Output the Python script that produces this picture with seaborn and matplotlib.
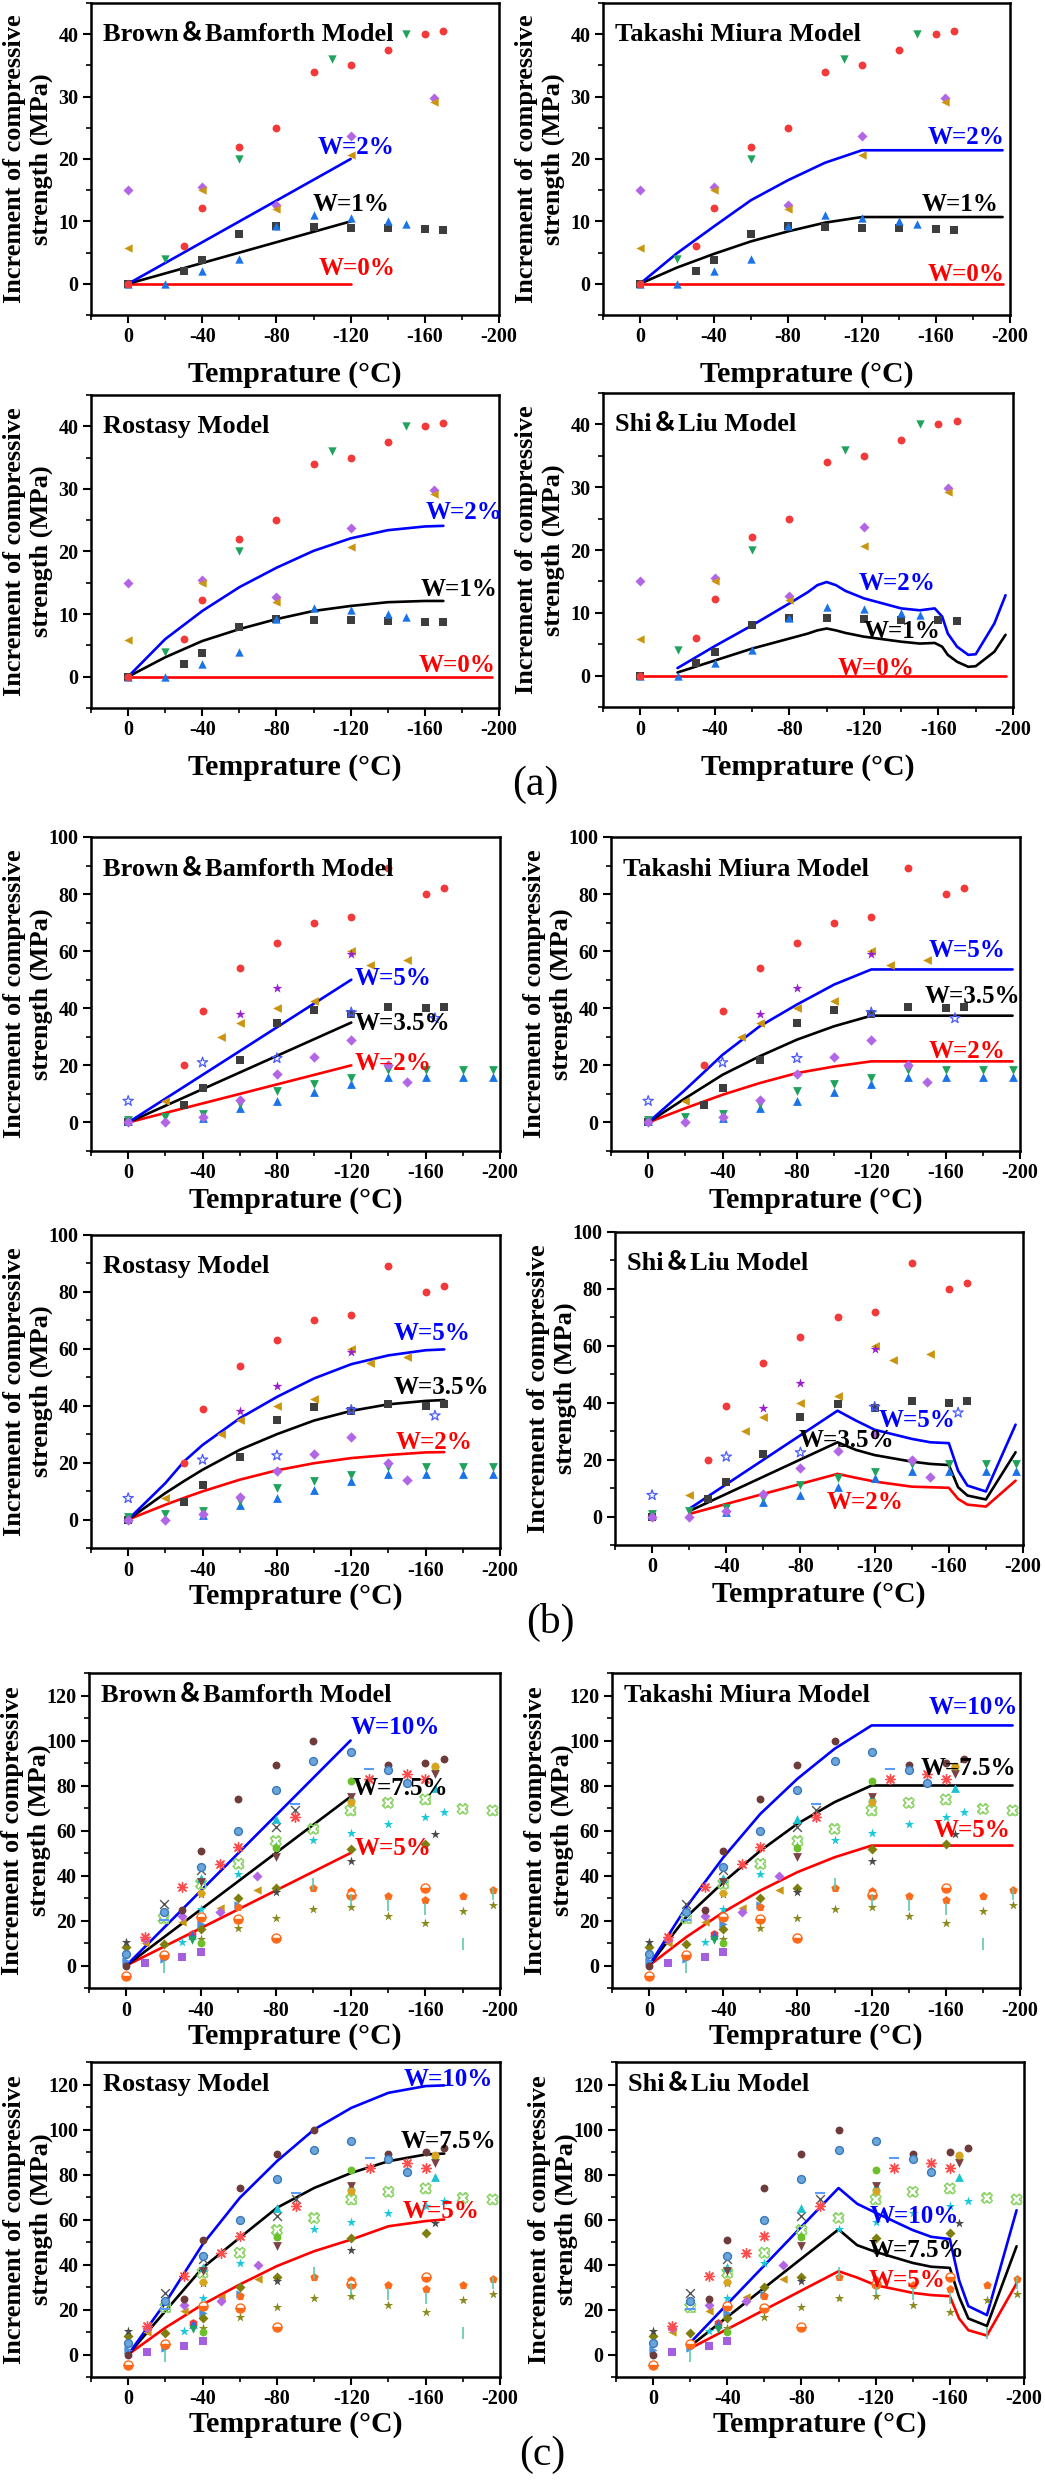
import matplotlib
matplotlib.use("Agg")
import matplotlib.pyplot as plt
import seaborn as sns
from matplotlib.ticker import MultipleLocator

# ---------------- (a) measured data ----------------
A_RED_T = [0, -30, -40, -60, -80, -100, -120, -140, -160, -170]
A_RED_V = [0, 6, 12.2, 22, 25, 34, 35, 37.5, 40, 40.5]
A_GRN_T = [-20, -60, -110, -150]
A_GRN_V = [4, 20, 36, 40]
A_PUR_T = [0, -40, -80, -120, -165]
A_PUR_V = [15, 15.5, 12.7, 23.7, 29.8]
A_GLD_T = [0, -40, -80, -120, -165]
A_GLD_V = [5.8, 15, 12, 20.7, 29.2]
A_BLU_T = [0, -20, -40, -60, -80, -100, -120, -140, -150]
A_BLU_V = [0, 0, 2, 4, 9.2, 11, 10.6, 10, 9.6]
A_GRY_T = [0, -30, -40, -60, -80, -100, -120, -140, -160, -170]
A_GRY_V = [0, 2, 3.8, 8, 9.2, 9.1, 9, 8.9, 8.8, 8.7]

# (a) model curves
A_BB_T = [0, -120]
A_BB_W0 = [0, 0]
A_BB_W1 = [0, 10]
A_BB_W2 = [0, 20]
A_TM_T = [0, -20, -40, -60, -80, -100, -120, -196]
A_TM_W0 = [0, 0, 0, 0, 0, 0, 0, 0]
A_TM_W1 = [0, 2.6, 4.8, 6.8, 8.4, 9.8, 10.7, 10.7]
A_TM_W2 = [0, 4.9, 9.2, 13.4, 16.6, 19.4, 21.4, 21.4]
A_RO_T = [0, -20, -40, -60, -80, -100, -120, -140, -160, -170]
A_RO_W1 = [0, 3.1, 5.7, 7.6, 9.2, 10.5, 11.3, 11.9, 12.1, 12.1]
A_RO_W2 = [0, 6.0, 10.5, 14.3, 17.4, 20.1, 22.1, 23.4, 24.0, 24.1]
A_W0_T = [0, -196]
A_W0_V = [0, 0]
A_SL_T = [-20, -40, -60, -80, -90, -95, -100, -105, -110, -120, -140, -150, -158, -162, -165, -170, -176, -180, -190, -196]
A_SL_W1 = [0.5, 2.4, 4.3, 5.9, 6.7, 7.2, 7.5, 7.2, 6.8, 6.2, 5.4, 5.1, 5.2, 4.6, 3.3, 2.2, 1.4, 1.5, 3.8, 6.5]
A_SL_W2 = [1.2, 4.7, 8.0, 11.5, 13.3, 14.4, 14.9, 14.4, 13.5, 12.3, 10.7, 10.4, 10.7, 9.4, 6.7, 4.6, 3.3, 3.4, 8.3, 12.8]

# ---------------- (b) measured data ----------------
B_RED_T = [-30, -40, -60, -80, -100, -120, -140, -160, -170]
B_RED_V = [20, 39, 54, 63, 70, 72, 89, 80, 82]
B_GLD_T = [-20, -50, -60, -80, -100, -120, -130, -150]
B_GLD_V = [7.5, 30, 35, 40, 42.5, 60, 55, 57]
B_PST_T = [-60, -80, -120]
B_PST_V = [38, 47, 59]
B_OST_T = [0, -40, -80, -120, -165]
B_OST_V = [7.5, 21, 22.5, 38.5, 36.5]
B_GRY_T = [0, -30, -40, -60, -80, -100, -120, -140, -160, -170]
B_GRY_V = [0, 6, 12, 22, 35, 39.5, 38, 40.5, 40, 40.5]
B_PUR_T = [0, -20, -40, -60, -80, -100, -120, -140, -150]
B_PUR_V = [0, 0, 2, 8, 17, 23, 29, 20, 14]
B_GRN_T = [0, -20, -40, -60, -80, -100, -120, -140, -160, -180, -196]
B_GRN_V = [1, 2, 3, 6.5, 11, 13.5, 15.5, 18.5, 18.5, 18.5, 18.5]
B_BLU_T = [0, -40, -60, -80, -100, -120, -140, -160, -180, -196]
B_BLU_V = [0.5, 1.5, 5, 7.5, 10.5, 13.5, 16, 16, 16, 16]

# (b) model curves
B_BB_T = [0, -120]
B_BB_W2 = [0, 20]
B_BB_W35 = [0, 35]
B_BB_W5 = [0, 50]
B_TM_T = [0, -20, -40, -60, -80, -100, -120, -196]
B_TM_W2 = [0, 5.0, 9.7, 13.8, 17.3, 19.6, 21.4, 21.4]
B_TM_W35 = [0, 8.5, 16.7, 23.2, 29.0, 33.7, 37.4, 37.4]
B_TM_W5 = [0, 11.5, 23.7, 33.7, 41.3, 48.3, 53.6, 53.6]
B_RO_T = [0, -20, -30, -40, -60, -80, -100, -120, -140, -160, -170]
B_RO_W2 = [0, 5.2, 7.6, 9.9, 14.0, 17.3, 19.8, 21.6, 22.7, 23.6, 23.7]
B_RO_W35 = [0, 9.3, 13.5, 17.5, 24.5, 30.0, 34.8, 38.2, 40.5, 41.7, 42.0]
B_RO_W5 = [0, 12.8, 20.4, 26.2, 35.6, 43.1, 49.6, 54.6, 57.7, 59.5, 59.8]
B_SL_T = [-20, -100, -110, -120, -140, -150, -160, -165, -170, -180, -196]
B_SL_W2 = [0.9, 15.0, 13.6, 12.3, 10.5, 10.3, 10.1, 6.2, 4.2, 3.5, 12.6]
B_SL_W35 = [1.9, 26.1, 23.4, 21.6, 19.3, 18.5, 18.1, 10.3, 7.4, 6.0, 22.6]
B_SL_W5 = [2.7, 37.2, 33.7, 30.5, 27.3, 26.1, 25.8, 16.1, 10.9, 8.8, 32.3]

# ---------------- (c) measured data ----------------
C_BRC_T = [0, -30, -40, -60, -80, -100, -140, -160, -170]
C_BRC_V = [0, 24.7, 50.8, 73.8, 88.9, 99.7, 88.9, 89.9, 91.9]
C_SPH_T = [0, -20, -40, -60, -80, -100, -120, -140, -150]
C_SPH_V = [5.2, 24, 44, 60, 77.8, 90.8, 94.8, 87, 81]
C_AST_T = [-10, -30, -50, -60, -90, -130, -150, -160]
C_AST_V = [12.6, 35.1, 45.2, 52.6, 66.2, 82.7, 84.9, 82.7]
C_XGR_T = [-20, -40, -80, -90]
C_XGR_V = [27.4, 42.5, 61.5, 68.9]
C_BOX_T = [-20, -40, -60, -80, -100, -120, -140, -160, -180, -196]
C_BOX_V = [21, 36.3, 45.2, 55.3, 60.7, 68.9, 72.3, 73.8, 69.6, 68.9]
C_CST_T = [-30, -40, -60, -80, -100, -120, -140, -160, -170]
C_CST_V = [10.4, 25.2, 40.7, 53.3, 56, 59, 63, 65.9, 68.1]
C_CTR_T = [-40, -80, -120, -165]
C_CTR_V = [39, 64.9, 74.8, 79]
C_GCI_T = [-40, -80, -120, -165]
C_GCI_V = [10, 52.3, 81.8, 88.1]
C_BDT_T = [-40, -80, -120, -165]
C_BDT_V = [37, 48.1, 74.8, 84.9]
C_ODI_T = [0, -20, -40, -60, -80, -120, -160]
C_ODI_V = [8.1, 9.6, 16.3, 29.9, 34.5, 51.9, 54.1]
C_OST_T = [-40, -60, -80, -100, -120, -140, -160, -180, -196]
C_OST_V = [11.9, 16.6, 21.2, 24.9, 25.9, 22.2, 19, 24.1, 27]
C_DST_T = [0, -40, -80, -120, -165]
C_DST_V = [10.4, 31.9, 32.6, 46.4, 58.5]
C_PEN_T = [-60, -100, -120, -140, -160, -180, -196]
C_PEN_V = [26.2, 34.4, 33.3, 30.7, 29.2, 31.1, 33.6]
C_HCI_T = [0, -20, -40, -60, -80, -120, -160]
C_HCI_V = [-4.7, 4.7, 21.5, 20.7, 12.3, 31.4, 34.5]
C_PSQ_T = [-10, -30, -40]
C_PSQ_V = [1, 4, 5.9]
C_PDI_T = [-10, -30, -50, -70]
C_PDI_V = [11.9, 21.8, 23.7, 40]
C_GLT_T = [-10, -30, -50, -70]
C_GLT_V = [10, 19.3, 25.6, 33.6]
C_BRT_T = [0, -20, -40, -60]
C_BRT_V = [1.9, 3, 18.5, 26.7]
C_GOC_T = [-40, -120, -165]
C_GOC_V = [32.1, 72.6, 88.6]
C_RHX_T = [-35]
C_RHX_V = [14]
C_BUT_T = [-35]
C_BUT_V = [13.6]
C_GDT_T = [-35]
C_GDT_V = [11.4]
C_DSH_T = [-20, -90, -130]
C_DSH_V = [20.3, 71.6, 87.4]
C_BAR_T = [-20, -100, -120, -140, -160, -180, -196]
C_BAR_V = [-0.7, 36.3, 28.9, 26.7, 25.2, 9.6, 31.9]

# (c) model curves
C_BB_T = [0, -120]
C_BB_W5 = [0, 50]
C_BB_W75 = [0, 75]
C_BB_W10 = [0, 100]
C_TM_T = [0, -20, -40, -60, -80, -100, -120, -196]
C_TM_W5 = [0, 12.6, 23.7, 33.3, 41.5, 48.1, 53.3, 53.3]
C_TM_W75 = [0, 21.5, 37.0, 51.0, 63.0, 72.6, 80.0, 80.0]
C_TM_W10 = [0, 25.9, 48.0, 67.4, 83.0, 96.3, 106.7, 106.7]
C_RO_T = [0, -20, -40, -60, -80, -100, -120, -140, -160, -170]
C_RO_W5 = [0, 11.9, 22.2, 31.1, 39.3, 45.9, 51.1, 57.0, 59.3, 60.0]
C_RO_W75 = [0, 19.3, 38.5, 51.9, 65.2, 74.0, 80.7, 85.9, 88.9, 89.3]
C_RO_W10 = [0, 23.0, 48.9, 69.6, 85.9, 100.0, 109.6, 116.3, 119.3, 119.6]
C_SL_T = [-20, -100, -110, -120, -140, -150, -160, -165, -170, -180, -196]
C_SL_W5 = [2.7, 37.0, 34.2, 30.8, 27.4, 26.4, 25.9, 16.0, 10.8, 8.4, 31.6]
C_SL_W75 = [3.7, 55.6, 48.6, 45.6, 40.7, 39.0, 38.5, 25.6, 16.0, 12.7, 48.1]
C_SL_W10 = [5.2, 74.0, 67.0, 63.0, 55.3, 52.3, 51.3, 33.0, 21.5, 17.5, 64.1]

TITLES = ["Brown＆Bamforth Model", "Takashi Miura Model", "Rostasy Model", "Shi＆Liu Model"]

# ---------------- style ----------------
sns.set_theme(style="ticks")
plt.rcParams["font.family"] = ["Liberation Serif", "Noto Sans CJK SC"]
plt.rcParams["font.weight"] = "bold"
plt.rcParams["axes.labelweight"] = "bold"
plt.rcParams["axes.unicode_minus"] = False
for k in ["text.color", "axes.labelcolor", "axes.edgecolor", "xtick.color", "ytick.color"]:
    plt.rcParams[k] = "black"

BLUE, BLACK, RED = "#0000ff", "#000000", "#ff0000"
FIG_W, FIG_H = 1045, 2480
fig = plt.figure(figsize=(FIG_W / 100, FIG_H / 100), dpi=100)

PANELS = {
    ("a", 0, 0): (91, 499, 3, 315), ("a", 0, 1): (603, 1010, 3, 315),
    ("a", 1, 0): (91, 499, 395, 708), ("a", 1, 1): (603, 1013, 393, 707),
    ("b", 0, 0): (91, 500, 837, 1151), ("b", 0, 1): (611, 1020, 837, 1151),
    ("b", 1, 0): (91, 500, 1235, 1548), ("b", 1, 1): (615, 1023, 1232, 1545),
    ("c", 0, 0): (89, 500, 1673, 1988), ("c", 0, 1): (612, 1020, 1673, 1988),
    ("c", 1, 0): (91, 500, 2062, 2377), ("c", 1, 1): (616, 1024, 2062, 2377),
}
YCFG = {"a": ((-5, 45), 10, 5), "b": ((-10, 100), 20, 10), "c": ((-10, 130), 20, 10)}
XLAB_OFF = {"a": 60, "b": 49, "c": 48}
TITLE_Y = {"a": 0.90, "b": 0.898, "c": 0.93}


def make_ax(key):
    l, r, t, b = PANELS[key]
    ax = fig.add_axes([l / FIG_W, 1 - b / FIG_H, (r - l) / FIG_W, (b - t) / FIG_H])
    g = key[0]
    (ylo, yhi), ymaj, ymin = YCFG[g]
    ax.set_xlim(20, -200)
    ax.set_ylim(ylo, yhi)
    ax.xaxis.set_major_locator(MultipleLocator(40))
    ax.xaxis.set_minor_locator(MultipleLocator(20))
    ax.yaxis.set_major_locator(MultipleLocator(ymaj))
    ax.yaxis.set_minor_locator(MultipleLocator(ymin))
    ax.tick_params(which="major", direction="out", length=6, width=1.5, labelsize=14.5, pad=3,
                   top=False, right=False)
    ax.tick_params(which="minor", direction="out", length=3.5, width=1.2, top=False, right=False)
    for sp in ax.spines.values():
        sp.set_visible(True)
        sp.set_linewidth(1.8)
        sp.set_color("black")
    ax.set_facecolor("white")
    ax.set_ylabel("Increment of compressive\nstrength (MPa)", fontsize=19, fontweight="bold",
                  linespacing=1.2)
    ax.yaxis.label.set_va("center")
    ax.yaxis.set_label_coords(-63 / (r - l), 0.5)
    ax.set_xlabel("Temprature (°C)", fontsize=21.5, fontweight="bold")
    ax.xaxis.label.set_va("center")
    ax.xaxis.set_label_coords(0.5, -XLAB_OFF[g] / (b - t))
    idx = key[1] * 2 + key[2]
    ax.text(0.03, TITLE_Y[g], TITLES[idx], transform=ax.transAxes, ha="left", va="center",
            fontsize=19, fontweight="bold", zorder=5)
    return ax


def line(ax, x, y, c):
    sns.lineplot(x=x, y=y, color=c, linewidth=1.9, sort=False, estimator=None, ax=ax, zorder=2)


def sc(ax, x, y, m, c, s=32, ec=None, lw=0.0):
    sns.scatterplot(x=x, y=y, marker=m, color=c, s=s, edgecolor=ec if ec else c, linewidth=lw,
                    ax=ax, legend=False, zorder=3)


def lab(ax, x, y, txt, c, ha):
    ax.text(x, y, txt, color=c, fontsize=18, fontweight="bold", ha=ha, va="center",
            zorder=6, clip_on=False)


# ---------------- group (a) ----------------
def pts_a(ax):
    sc(ax, A_GRY_T, A_GRY_V, "s", "#3d3d3d", s=28)
    sc(ax, A_BLU_T, A_BLU_V, "^", "#1a73e8", s=36)
    sc(ax, A_RED_T, A_RED_V, "o", "#f23a3a")
    sc(ax, A_GRN_T, A_GRN_V, "v", "#1fa35c", s=36)
    sc(ax, A_PUR_T, A_PUR_V, "D", "#b266e6", s=26)
    sc(ax, A_GLD_T, A_GLD_V, "<", "#cc9510", s=36)


ax = make_ax(("a", 0, 0))
line(ax, A_BB_T, A_BB_W0, RED); line(ax, A_BB_T, A_BB_W1, BLACK); line(ax, A_BB_T, A_BB_W2, BLUE)
pts_a(ax)
lab(ax, -102, 21.8, "W=2%", BLUE, "left"); lab(ax, -99.5, 12.7, "W=1%", BLACK, "left")
lab(ax, -103, 2.5, "W=0%", RED, "left")

ax = make_ax(("a", 0, 1))
line(ax, A_TM_T, A_TM_W0, RED); line(ax, A_TM_T, A_TM_W1, BLACK); line(ax, A_TM_T, A_TM_W2, BLUE)
pts_a(ax)
lab(ax, -197, 23.5, "W=2%", BLUE, "right"); lab(ax, -194, 12.7, "W=1%", BLACK, "right")
lab(ax, -197, 1.5, "W=0%", RED, "right")

ax = make_ax(("a", 1, 0))
line(ax, A_W0_T, A_W0_V, RED); line(ax, A_RO_T, A_RO_W1, BLACK); line(ax, A_RO_T, A_RO_W2, BLUE)
pts_a(ax)
lab(ax, -202, 26.2, "W=2%", BLUE, "right"); lab(ax, -199, 14, "W=1%", BLACK, "right")
lab(ax, -198, 1.75, "W=0%", RED, "right")

ax = make_ax(("a", 1, 1))
line(ax, A_W0_T, A_W0_V, RED); line(ax, A_SL_T, A_SL_W1, BLACK); line(ax, A_SL_T, A_SL_W2, BLUE)
pts_a(ax)
lab(ax, -117, 14.6, "W=2%", BLUE, "left"); lab(ax, -120, 7, "W=1%", BLACK, "left")
lab(ax, -106, 1.2, "W=0%", RED, "left")


# ---------------- group (b) ----------------
def pts_b(ax):
    sc(ax, B_GRY_T, B_GRY_V, "s", "#3d3d3d", s=28)
    sc(ax, B_BLU_T, B_BLU_V, "^", "#1a73e8", s=40)
    sc(ax, B_GRN_T, B_GRN_V, "v", "#1fa35c", s=40)
    sc(ax, B_PUR_T, B_PUR_V, "D", "#b266e6", s=28)
    sc(ax, B_RED_T, B_RED_V, "o", "#f23a3a")
    sc(ax, B_GLD_T, B_GLD_V, "<", "#cc9510", s=40)
    sc(ax, B_PST_T, B_PST_V, "*", "#9a1fd0", s=55)
    ax.scatter(B_OST_T, B_OST_V, marker="*", s=60, facecolors="none", edgecolors="#4a5cff",
               linewidths=0.9, zorder=3)


ax = make_ax(("b", 0, 0))
line(ax, B_BB_T, B_BB_W2, RED); line(ax, B_BB_T, B_BB_W35, BLACK); line(ax, B_BB_T, B_BB_W5, BLUE)
pts_b(ax)
lab(ax, -122, 50.4, "W=5%", BLUE, "left"); lab(ax, -122, 34.7, "W=3.5%", BLACK, "left")
lab(ax, -122, 20.7, "W=2%", RED, "left")

ax = make_ax(("b", 0, 1))
line(ax, B_TM_T, B_TM_W2, RED); line(ax, B_TM_T, B_TM_W35, BLACK); line(ax, B_TM_T, B_TM_W5, BLUE)
pts_b(ax)
lab(ax, -192, 60.3, "W=5%", BLUE, "right"); lab(ax, -200, 44, "W=3.5%", BLACK, "right")
lab(ax, -192, 24.8, "W=2%", RED, "right")

ax = make_ax(("b", 1, 0))
line(ax, B_RO_T, B_RO_W2, RED); line(ax, B_RO_T, B_RO_W35, BLACK); line(ax, B_RO_T, B_RO_W5, BLUE)
pts_b(ax)
lab(ax, -184, 65.3, "W=5%", BLUE, "right"); lab(ax, -194, 46.5, "W=3.5%", BLACK, "right")
lab(ax, -185, 27, "W=2%", RED, "right")

ax = make_ax(("b", 1, 1))
line(ax, B_SL_T, B_SL_W2, RED); line(ax, B_SL_T, B_SL_W35, BLACK); line(ax, B_SL_T, B_SL_W5, BLUE)
pts_b(ax)
lab(ax, -122, 33.7, "W=5%", BLUE, "left"); lab(ax, -79, 26.7, "W=3.5%", BLACK, "left")
lab(ax, -94, 5, "W=2%", RED, "left")


# ---------------- group (c) ----------------
def pts_c(ax):
    sc(ax, C_PSQ_T, C_PSQ_V, "s", "#a35fe0", s=26)
    sc(ax, C_BRT_T, C_BRT_V, ">", "#4a90e2", s=36)
    sc(ax, C_GLT_T, C_GLT_V, "<", "#cc9510", s=36)
    sc(ax, C_PDI_T, C_PDI_V, "D", "#b266e6", s=26)
    sc(ax, C_ODI_T, C_ODI_V, "D", "#7f7f10", s=26)
    sc(ax, C_PEN_T, C_PEN_V, "p", "#ff6a1a", s=40)
    ax.plot(C_HCI_T, C_HCI_V, ls="none", marker="o", ms=6.5, fillstyle="bottom",
            markerfacecolor="#ff6a1a", markerfacecoloralt="white", markeredgecolor="#ff6a1a",
            markeredgewidth=1.0, zorder=3)
    sc(ax, C_OST_T, C_OST_V, "*", "#8a8a1e", s=50)
    sc(ax, C_DST_T, C_DST_V, "*", "#4a4a4a", s=50)
    sc(ax, C_CST_T, C_CST_V, "*", "#18c8d8", s=50)
    ax.scatter(C_BOX_T, C_BOX_V, marker="X", s=60, facecolors="none", edgecolors="#7fcf55",
               linewidths=1.0, zorder=3)
    ax.scatter(C_BOX_T, C_BOX_V, marker="s", s=40, facecolors="none", edgecolors="#9ad97a",
               linewidths=0.6, zorder=3)
    ax.scatter(C_XGR_T, C_XGR_V, marker="x", s=40, c="#555555", linewidths=1.0, zorder=3)
    ax.scatter(C_AST_T, C_AST_V, marker=(8, 2, 0), s=50, c="#ff4d4d", linewidths=1.0, zorder=3)
    ax.scatter(C_DSH_T, C_DSH_V, marker="_", s=50, c="#5a9bff", linewidths=1.5, zorder=3)
    ax.scatter(C_BAR_T, C_BAR_V, marker="|", s=80, c="#5fc9a8", linewidths=1.2, zorder=3)
    sc(ax, C_BRC_T, C_BRC_V, "o", "#6e3b3b")
    sc(ax, C_SPH_T, C_SPH_V, "o", "#6aa6dc", ec="#3a78b8", lw=1.0)
    sc(ax, C_CTR_T, C_CTR_V, "^", "#1bc3d0", s=40)
    sc(ax, C_GCI_T, C_GCI_V, "o", "#6cc02a")
    sc(ax, C_BDT_T, C_BDT_V, "v", "#7b4343", s=40)
    sc(ax, C_GOC_T, C_GOC_V, "o", "#d9a520")
    sc(ax, C_RHX_T, C_RHX_V, "h", "#f23a3a", s=40)
    sc(ax, C_BUT_T, C_BUT_V, "^", "#1a73e8", s=36)
    sc(ax, C_GDT_T, C_GDT_V, "v", "#1fa35c", s=36)


ax = make_ax(("c", 0, 0))
line(ax, C_BB_T, C_BB_W5, RED); line(ax, C_BB_T, C_BB_W75, BLACK); line(ax, C_BB_T, C_BB_W10, BLUE)
pts_c(ax)
lab(ax, -120, 106, "W=10%", BLUE, "left"); lab(ax, -121, 78.5, "W=7.5%", BLACK, "left")
lab(ax, -122, 51.9, "W=5%", RED, "left")

ax = make_ax(("c", 0, 1))
line(ax, C_TM_T, C_TM_W5, RED); line(ax, C_TM_T, C_TM_W75, BLACK); line(ax, C_TM_T, C_TM_W10, BLUE)
pts_c(ax)
lab(ax, -199, 114.8, "W=10%", BLUE, "right"); lab(ax, -198, 87.4, "W=7.5%", BLACK, "right")
lab(ax, -195, 60, "W=5%", RED, "right")

ax = make_ax(("c", 1, 0))
line(ax, C_RO_T, C_RO_W5, RED); line(ax, C_RO_T, C_RO_W75, BLACK); line(ax, C_RO_T, C_RO_W10, BLUE)
pts_c(ax)
lab(ax, -196, 122, "W=10%", BLUE, "right"); lab(ax, -198, 94.8, "W=7.5%", BLACK, "right")
lab(ax, -189, 63.7, "W=5%", RED, "right")

ax = make_ax(("c", 1, 1))
line(ax, C_SL_T, C_SL_W5, RED); line(ax, C_SL_T, C_SL_W75, BLACK); line(ax, C_SL_T, C_SL_W10, BLUE)
pts_c(ax)
lab(ax, -117, 61.2, "W=10%", BLUE, "left"); lab(ax, -116, 46.4, "W=7.5%", BLACK, "left")
lab(ax, -116, 33, "W=5%", RED, "left")

# group labels
for txt, (px, py) in [("(a)", (535, 785)), ("(b)", (550, 1622)), ("(c)", (542, 2455))]:
    fig.text(px / FIG_W, 1 - py / FIG_H, txt, ha="center", va="center", fontsize=30,
             fontweight="normal", family=["Liberation Serif"])

fig.savefig("out.png", dpi=100, facecolor="white")
